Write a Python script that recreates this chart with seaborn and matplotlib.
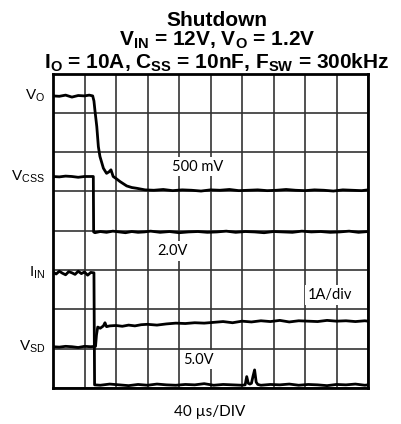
import matplotlib
matplotlib.use('Agg')
import matplotlib.pyplot as plt
import seaborn as sns
import pandas as pd

# scope traces, in divisions (x: 0..10 time div, y: 0..8 vertical div)
vo_t = [0.0, 0.2, 0.4, 0.6, 0.8, 1.0, 1.15, 1.26,
        1.3, 1.33, 1.39, 1.44, 1.49, 1.6, 1.7, 1.78, 1.84, 1.91, 2.0, 2.13, 2.34, 2.5, 2.66, 2.92,
        3.2, 3.5, 3.8, 4.1, 4.4, 4.7, 5.0, 5.3, 5.6, 5.9, 6.2, 6.5, 6.8, 7.1, 7.4, 7.7, 8.0, 8.3,
        8.6, 8.9, 9.2, 9.5, 9.8, 10.0]
vo_v = [7.43, 7.42, 7.45, 7.40, 7.44, 7.43, 7.45, 7.43,
        7.30, 7.07, 6.65, 6.14, 5.89, 5.59, 5.46, 5.50, 5.55, 5.38, 5.33, 5.25, 5.14, 5.10, 5.08, 5.04,
        5.03, 5.05, 5.02, 5.04, 5.03, 5.01, 5.04, 5.03, 5.05, 5.02, 5.03, 5.04, 5.02, 5.03, 5.05, 5.03,
        5.02, 5.04, 5.03, 5.01, 5.04, 5.03, 5.02, 5.04]

vcss_t = [0.0, 0.2, 0.4, 0.6, 0.8, 1.0, 1.15, 1.28, 1.29, 1.33,
          1.5, 1.7, 1.9, 2.1, 2.3, 2.5, 2.7, 2.9,
          3.1, 3.4, 3.7, 4.0, 4.3, 4.6, 4.9, 5.2, 5.5, 5.8, 6.1, 6.4, 6.7, 7.0, 7.3, 7.6, 7.9, 8.2,
          8.5, 8.8, 9.1, 9.4, 9.7, 10.0]
vcss_v = [5.38, 5.37, 5.39, 5.38, 5.36, 5.38, 5.38, 5.38, 3.97, 3.95,
          3.98, 3.96, 3.99, 3.97, 3.95, 3.98, 3.96, 3.97,
          3.99, 3.96, 3.98, 3.95, 3.97, 3.98, 3.96, 3.97, 3.99, 3.96, 3.98, 3.97, 3.95, 3.98, 3.97,
          3.96, 3.99, 3.97, 3.98, 3.96, 3.97, 3.99, 3.96, 3.98]

iin_t = [0.0, 0.1, 0.2, 0.3, 0.4, 0.5, 0.6, 0.7, 0.8, 0.9, 1.0, 1.1, 1.2, 1.3,
         1.32, 1.5, 1.8, 2.1, 2.4, 2.7, 3.0, 3.3, 3.6, 3.9, 4.2, 4.5, 4.8, 5.1, 5.4, 5.7, 6.0,
         6.1, 6.15, 6.2, 6.25, 6.3, 6.35, 6.4, 6.45, 6.5,
         6.6, 6.9, 7.2, 7.5, 7.8, 8.1, 8.4, 8.7, 9.0, 9.3, 9.6, 9.9, 10.0]
iin_v = [2.95, 2.90, 2.97, 2.92, 2.88, 2.96, 2.93, 2.89, 2.97, 2.91, 2.95, 2.87, 2.94, 2.93,
         0.08, 0.07, 0.10, 0.08, 0.06, 0.09, 0.07, 0.10, 0.08, 0.07, 0.09, 0.08, 0.11, 0.07, 0.09, 0.08, 0.07,
         0.08, 0.29, 0.12, 0.10, 0.12, 0.30, 0.46, 0.15, 0.09,
         0.07, 0.09, 0.08, 0.10, 0.07, 0.09, 0.08, 0.06, 0.09, 0.08, 0.10, 0.07, 0.08]

vsd_t = [0.0, 0.2, 0.4, 0.6, 0.8, 1.0, 1.2, 1.35, 1.38, 1.42,
         1.5, 1.6, 1.65, 1.7, 1.8, 2.0, 2.2, 2.4, 2.6, 2.8, 3.0,
         3.3, 3.6, 3.9, 4.2, 4.5, 4.8, 5.1, 5.4, 5.7, 6.0, 6.3, 6.6, 6.9, 7.2, 7.5, 7.8, 8.1, 8.4,
         8.7, 9.0, 9.3, 9.6, 9.9, 10.0]
vsd_v = [1.05, 1.04, 1.06, 1.05, 1.03, 1.06, 1.05, 1.06, 1.35, 1.55,
         1.52, 1.58, 1.66, 1.56, 1.58, 1.59, 1.57, 1.60, 1.58, 1.61, 1.62,
         1.60, 1.63, 1.65, 1.64, 1.66, 1.65, 1.67, 1.69, 1.66, 1.70, 1.68, 1.71, 1.69, 1.72, 1.68,
         1.71, 1.70, 1.69, 1.72, 1.70, 1.71, 1.69, 1.71, 1.70]

trace_labels = [r'V$_{\mathrm{O}}$', r'V$_{\mathrm{CSS}}$', r'I$_{\mathrm{IN}}$', r'V$_{\mathrm{SD}}$']
trace_levels = [7.43, 5.38, 2.93, 1.05]
scale_labels = ['500 mV', '2.0V', '1A/div', '5.0V']
scale_pos = [(4.6, 5.63), (3.8, 3.49), (8.8, 2.36), (4.6, 0.72)]

sns.set_style('white')
plt.rcParams['font.family'] = ['Liberation Sans', 'DejaVu Sans']
plt.rcParams['text.color'] = 'black'
plt.rcParams['mathtext.fontset'] = 'custom'
plt.rcParams['mathtext.rm'] = 'Liberation Sans'
plt.rcParams['mathtext.bf'] = 'Liberation Sans:bold'

fig = plt.figure(figsize=(4.01, 4.24), dpi=100)
ax = fig.add_axes([53/401, 36/424, 315/401, 314.5/424])

for t, v in [(vo_t, vo_v), (vcss_t, vcss_v), (iin_t, iin_v), (vsd_t, vsd_v)]:
    df = pd.DataFrame({'t': t, 'v': v})
    sns.lineplot(data=df, x='t', y='v', ax=ax, color='black', lw=2.0,
                 estimator=None, sort=False)

ax.set_xlim(0, 10)
ax.set_ylim(0, 8)
ax.set_xticks(range(11))
ax.set_yticks(range(9))
ax.set_xticklabels([])
ax.set_yticklabels([])
ax.tick_params(length=0)
ax.set_xlabel('')
ax.set_ylabel('')
ax.grid(True, color='#333333', lw=1.2)
for s in ax.spines.values():
    s.set_color('black')
    s.set_linewidth(2)

for lab, lev in zip(trace_labels, trace_levels):
    ax.text(-0.025, lev, lab, ha='right', va='center', fontsize=11,
            transform=ax.get_yaxis_transform())

for lab, (x, y) in zip(scale_labels, scale_pos):
    ax.text(x, y, lab, ha='center', va='center', fontsize=10.5, family=['Lato', 'DejaVu Sans'],
            bbox=dict(facecolor='white', edgecolor='none', pad=2), zorder=5)

fig.text(210/401, 1 - 412/424, '40 \u00b5s/DIV', ha='center', va='center', fontsize=11,
         family=['Lato', 'DejaVu Sans'])

fig.text(217/401, 1 - 26/424, 'Shutdown', ha='center', va='baseline', fontsize=15, fontweight='bold')
fig.text(217/401, 1 - 45.5/424, r'V$_{\mathbf{IN}}$ = 12V, V$_{\mathbf{O}}$ = 1.2V', ha='center',
         va='baseline', fontsize=15, fontweight='bold')
fig.text(217/401, 1 - 68/424, r'I$_{\mathbf{O}}$ = 10A, C$_{\mathbf{SS}}$ = 10nF, F$_{\mathbf{SW}}$ = 300kHz',
         ha='center', va='baseline', fontsize=15, fontweight='bold')

fig.savefig('out.png', dpi=100)
